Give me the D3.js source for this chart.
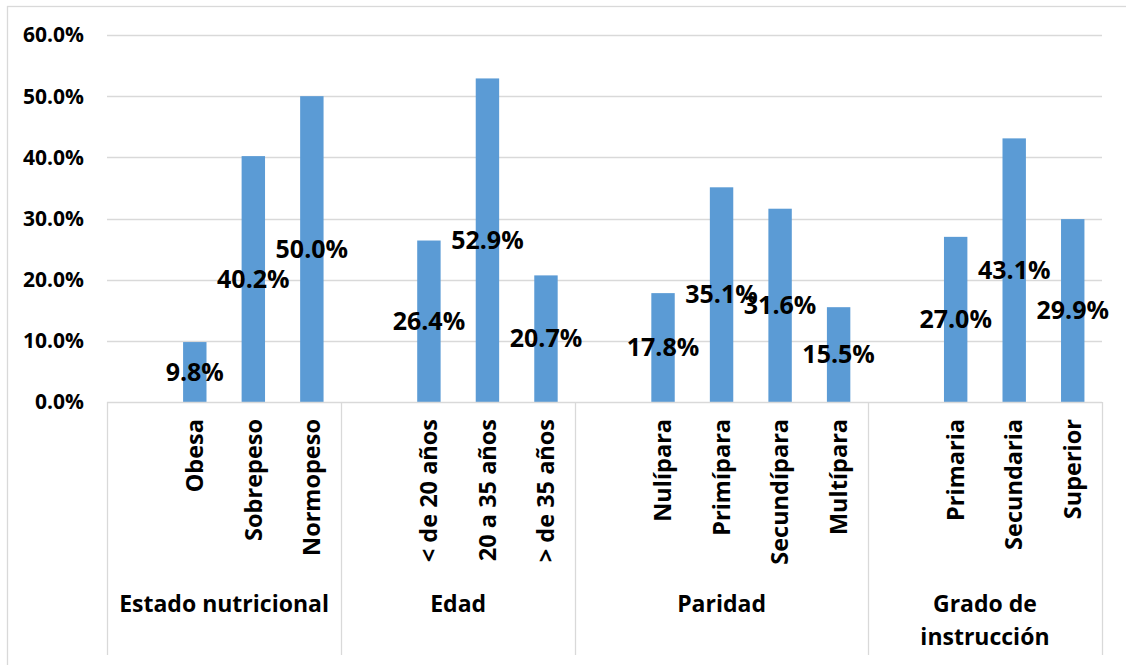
<!DOCTYPE html>
<html>
<head>
<meta charset="utf-8">
<script src="https://cdn.jsdelivr.net/npm/d3@7"></script>
<style>
  body { margin: 0; background: #fff; overflow: hidden; }
  text { font-family: "Open Sans", sans-serif; font-weight: 700; fill: #000; }
</style>
</head>
<body>
<div id="chart"></div>
<script>
// ── Data ────────────────────────────────────────────────────────────────
const groupNames = ["Estado nutricional", "Edad", "Paridad", "Grado de instrucción"];
const categoryLabels = [
  "", "Obesa", "Sobrepeso", "Normopeso",
  "", "< de 20 años", "20 a 35 años", "> de 35 años",
  "", "Nulípara", "Primípara", "Secundípara", "Multípara",
  "", "Primaria", "Secundaria", "Superior"
];
const categoryGroup = [0,0,0,0, 1,1,1,1, 2,2,2,2,2, 3,3,3,3];
const values = [
  null, 9.8, 40.2, 50.0,
  null, 26.4, 52.9, 20.7,
  null, 17.8, 35.1, 31.6, 15.5,
  null, 27.0, 43.1, 29.9
];
const yTicks = [0, 10, 20, 30, 40, 50, 60];

// ── Layout ──────────────────────────────────────────────────────────────
const W = 1126, H = 665;
const plot = { left: 107, right: 1102, top: 35, bottom: 402 };
const tableBottom = 655;

const svg = d3.select("#chart").append("svg")
  .attr("width", W).attr("height", H)
  .style("display", "block");

// chart border (right and bottom edges fall outside the picture)
svg.append("rect")
  .attr("x", 7.5).attr("y", 6.5)
  .attr("width", 1140).attr("height", 680)
  .attr("fill", "none").attr("stroke", "#d9d9d9").attr("stroke-width", 1.3);

const x = d3.scaleBand()
  .domain(d3.range(categoryLabels.length))
  .range([plot.left, plot.right])
  .padding(0);

const y = d3.scaleLinear()
  .domain([0, 60])
  .range([plot.bottom, plot.top]);

// gridlines
svg.append("g").selectAll("line")
  .data(yTicks.filter(t => t > 0))
  .enter().append("line")
    .attr("x1", plot.left).attr("x2", plot.right)
    .attr("y1", d => Math.round(y(d)) + 0.5)
    .attr("y2", d => Math.round(y(d)) + 0.5)
    .attr("stroke", "#d9d9d9").attr("stroke-width", 1.3);

// y tick labels
svg.append("g").selectAll("text")
  .data(yTicks)
  .enter().append("text")
    .attr("x", 84)
    .attr("y", d => y(d))
    .attr("dy", "0.35em")
    .attr("text-anchor", "end")
    .style("font-size", "21px")
    .text(d => d3.format(".1f")(d) + "%");

// bars
const barW = x.bandwidth() * 0.4;
const barData = values.map((v, i) => ({ i, v })).filter(d => d.v != null);

svg.append("g").selectAll("rect")
  .data(barData)
  .enter().append("rect")
    .attr("x", d => x(d.i) + (x.bandwidth() - barW) / 2)
    .attr("y", d => y(d.v))
    .attr("width", barW)
    .attr("height", d => y(0) - y(d.v))
    .attr("fill", "#5b9bd5");

// category table lines
const axisG = svg.append("g").attr("stroke", "#d9d9d9").attr("stroke-width", 1.3);
axisG.append("line")
  .attr("x1", plot.left).attr("x2", plot.right)
  .attr("y1", plot.bottom + 0.5).attr("y2", plot.bottom + 0.5);

const groupBounds = groupNames.map((g, gi) => {
  const idx = d3.range(categoryLabels.length).filter(i => categoryGroup[i] === gi);
  return { name: g, x0: x(idx[0]), x1: x(idx[idx.length - 1]) + x.bandwidth() };
});
const splits = [plot.left].concat(groupBounds.map(b => b.x1));
axisG.selectAll("line.split")
  .data(splits)
  .enter().append("line")
    .attr("class", "split")
    .attr("x1", d => Math.round(d) + 0.5).attr("x2", d => Math.round(d) + 0.5)
    .attr("y1", plot.bottom).attr("y2", tableBottom);

// category labels (rotated)
svg.append("g").selectAll("text")
  .data(categoryLabels.map((c, i) => ({ c, i })).filter(d => d.c))
  .enter().append("text")
    .attr("transform", d => `translate(${x(d.i) + x.bandwidth() / 2},419) rotate(-90)`)
    .attr("dy", "0.35em")
    .attr("text-anchor", "end")
    .style("font-size", "23.5px")
    .text(d => d.c);

// group labels
const wrap = { "Grado de instrucción": ["Grado de", "instrucción"] };
groupBounds.forEach(b => {
  const lines = wrap[b.name] || [b.name];
  const t = svg.append("text")
    .attr("x", (b.x0 + b.x1) / 2)
    .attr("y", 604)
    .attr("text-anchor", "middle")
    .style("font-size", "23px");
  lines.forEach((ln, k) => {
    t.append("tspan")
      .attr("x", (b.x0 + b.x1) / 2)
      .attr("dy", k === 0 ? "0.35em" : "1.45em")
      .text(ln);
  });
});

// data labels, centred on each bar
svg.append("g").selectAll("text")
  .data(barData)
  .enter().append("text")
    .attr("x", d => x(d.i) + x.bandwidth() / 2)
    .attr("y", d => (y(d.v) + y(0)) / 2)
    .attr("dy", "0.35em")
    .attr("text-anchor", "middle")
    .style("font-size", "25px")
    .text(d => d3.format(".1f")(d.v) + "%");
</script>
</body>
</html>
